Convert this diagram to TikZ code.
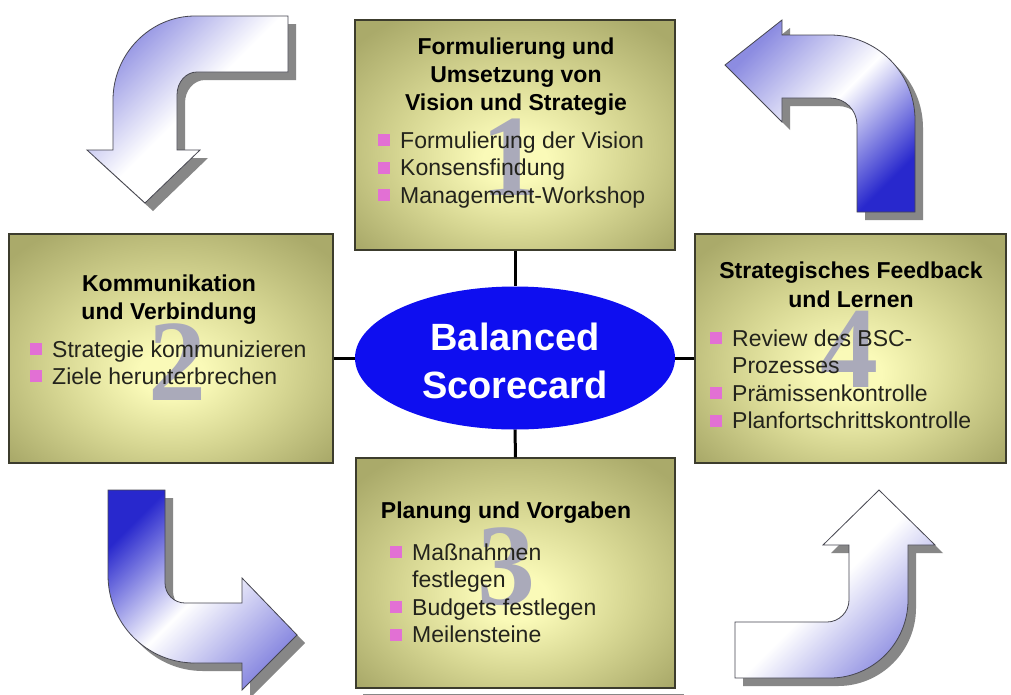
\documentclass[tikz,border=0pt]{standalone}
\usepackage{fontspec}
\setmainfont{Liberation Sans}
\newfontfamily\numfont{Liberation Serif}
\usetikzlibrary{shapes.geometric,calc,backgrounds}
\definecolor{boxdark}{RGB}{170,170,106}
\definecolor{boxmid}{RGB}{214,214,146}
\definecolor{boxlight}{RGB}{250,250,184}
\definecolor{boxline}{RGB}{60,60,45}
\definecolor{shadowgray}{RGB}{135,135,135}
\definecolor{bsqcol}{RGB}{226,112,212}
\definecolor{numgray}{RGB}{170,170,186}
\definecolor{txtcol}{RGB}{35,35,28}
\definecolor{bscblue}{RGB}{14,14,240}
\definecolor{arrblue}{RGB}{40,40,205}
\definecolor{arrlight}{RGB}{140,140,225}
\definecolor{arrline}{RGB}{70,70,80}
\pgfdeclareradialshading{boxshade}{\pgfpoint{0bp}{-6bp}}{color(0bp)=(boxlight); color(5bp)=(boxlight); color(18bp)=(boxmid); color(33bp)=(boxdark); color(50bp)=(boxdark)}
\newcommand\bsq{\textcolor{bsqcol}{\rule[2pt]{12pt}{12pt}}}
\newcommand\bitem[1]{\makebox[22pt][l]{\bsq}#1}
\newcommand\bcont[1]{\hspace*{22pt}#1}
\newcommand\pathTL{(288,16) -- (195,16) .. controls (150,16) and (113,54) .. (113,100) -- (113,150) -- (87,150) -- (145,203) -- (200,150) -- (177,150) -- (177,95) .. controls (177,82) and (186,72) .. (197,72) -- (288,72) -- cycle}
\newcommand\pathTR{(782,35) -- (830,35) .. controls (877,35) and (915,73) .. (915,120) -- (915,212) -- (857,212) -- (857,125) .. controls (857,110) and (845,98) .. (830,98) -- (782,98) -- (782,122) -- (725,65) -- (782,20) -- cycle}
\newcommand\pathBL{(108,490) -- (165,490) -- (165,583) .. controls (165,594) and (174,603) .. (185,603) -- (242,603) -- (242,578) -- (297,635) -- (242,690) -- (242,663) -- (195,663) .. controls (147,663) and (108,624) .. (108,575) -- cycle}
\newcommand\pathBR{(849,545) -- (849,600) .. controls (849,612) and (839,622) .. (827,622) -- (735,622) -- (735,678) -- (830,678) .. controls (873,678) and (908,643) .. (908,600) -- (908,545) -- (935,545) -- (879,490) -- (823,545) -- cycle}
\tikzset{
  bscbox/.style={rectangle, draw=boxline, line width=1.2pt, inner sep=0pt,
    shading=boxshade},
  title/.style={inner sep=0pt, text=black, font=\fontsize{23}{28}\selectfont\bfseries},
  txt/.style={inner sep=0pt, text=txtcol, font=\fontsize{23}{27.5}\selectfont},
  bignum/.style={inner sep=0pt, text=numgray, font=\fontsize{116}{116}\selectfont\numfont\bfseries},
  conn/.style={line width=3pt, black},
  cyclearrow/.style={draw=arrline, line width=0.8pt},
  arrshadow/.style={fill=shadowgray, shift={(8,8)}},
}
\begin{document}
\begin{tikzpicture}[x=1pt,y=-1pt]
\useasboundingbox[fill=white] (0,0) rectangle (1011,694);
% curved arrows
\fill[arrshadow] \pathTL;
\fill[arrshadow] \pathTR;
\fill[arrshadow] \pathBL;
\fill[arrshadow] \pathBR;
\shadedraw[cyclearrow, top color=arrlight, bottom color=white, middle color=white, shading angle=45] \pathTL;
\shadedraw[cyclearrow, top color=arrblue, bottom color=arrlight, middle color=white, shading angle=-135] \pathTR;
\shadedraw[cyclearrow, top color=arrblue, bottom color=arrlight, middle color=white, shading angle=45] \pathBL;
\shadedraw[cyclearrow, top color=arrlight, bottom color=white, middle color=white, shading angle=-135] \pathBR;
% boxes
\node[bscbox, minimum width=320pt, minimum height=230pt] (b1) at (515,135) {};
\node[bscbox, minimum width=324pt, minimum height=229pt] (b2) at (171,348.5) {};
\node[bscbox, minimum width=319pt, minimum height=230pt] (b3) at (515.5,573) {};
\node[bscbox, minimum width=311pt, minimum height=229pt] (b4) at (850.5,348.5) {};
% ellipse
\node[ellipse, fill=bscblue, minimum width=320pt, minimum height=143pt, inner sep=0pt] (bsc) at (515,358) {};
\node[inner sep=0pt, text=white, font=\fontsize{38}{48}\selectfont\bfseries, align=center] (bsclabel) at ($(bsc.center)+(0,2.5)$) {Balanced\\Scorecard};
\begin{pgfonlayer}{background}
  \foreach \n in {b1,b2,b3,b4}
    \fill[shadowgray] ($(\n.south west)+(8,8)$) rectangle ($(\n.north east)+(8,8)$);
  \fill[shadowgray] ($(bsc.center)+(10,10)$) ellipse [x radius=160, y radius=71.5];
\end{pgfonlayer}
% connectors
\draw[conn] (b1.south) -- (bsc.north);
\draw[conn] (bsc.south) -- (b3.north);
\draw[conn] (bsc.west) -- (bsc.west -| b2.east);
\draw[conn] (bsc.east) -- (bsc.east -| b4.west);
% big numbers
\node[bignum] (n1) at (510,157) {1};
\node[bignum] (n2) at (177,362) {2};
\node[bignum] (n3) at (506,567) {3};
\node[bignum] (n4) at (849,349) {4};
% box 1
\node[title, anchor=base] (t1) at (516,54) {\parbox[t]{300pt}{\centering Formulierung und\\Umsetzung von\\Vision und Strategie}};
\node[txt, anchor=base west] (l1) at (378,148) {\parbox[t]{290pt}{\raggedright\bitem{Formulierung der Vision}\\\bitem{Konsensfindung}\\\bitem{Management-Workshop}}};
% box 2
\node[title, anchor=base] (t2) at (169,291) {\parbox[t]{300pt}{\centering Kommunikation\\und Verbindung}};
\node[txt, anchor=base west] (l2) at (30,357) {\parbox[t]{295pt}{\raggedright\bitem{Strategie kommunizieren}\\[-0.5pt]\bitem{Ziele herunterbrechen}}};
% box 3
\node[title, anchor=base] (t3) at (506,518) {\parbox[t]{300pt}{\centering Planung und Vorgaben}};
\node[txt, anchor=base west] (l3) at (390,560) {\parbox[t]{280pt}{\raggedright\bitem{Maßnahmen}\\\bcont{festlegen}\\\bitem{Budgets festlegen}\\\bitem{Meilensteine}}};
% box 4
\node[title, anchor=base] (t4) at (851,278) {\parbox[t]{300pt}{\centering Strategisches Feedback\\[1pt]und Lernen}};
\node[txt, anchor=base west] (l4) at (710,346) {\parbox[t]{290pt}{\raggedright\bitem{Review des BSC-}\\\bcont{Prozesses}\\\bitem{Prämissenkontrolle}\\\bitem{Planfortschrittskontrolle}}};
\end{tikzpicture}
\end{document}
